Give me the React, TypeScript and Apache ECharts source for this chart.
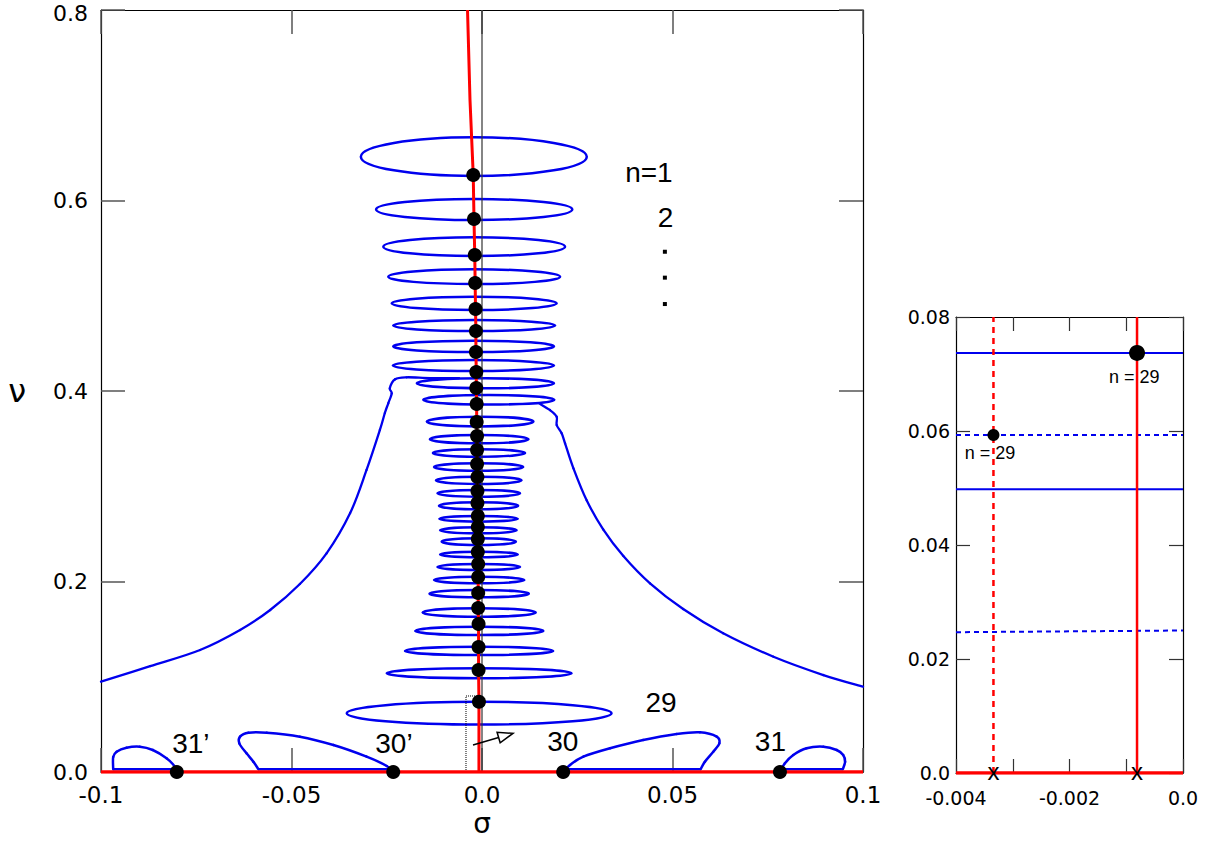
import React, { useEffect, useRef } from "react";
import * as echarts from "echarts";

// ---------------- main panel data ----------------
const mainXTicks = ["-0.1", "-0.05", "0.0", "0.05", "0.1"];
const mainYTicks = ["0.0", "0.2", "0.4", "0.6", "0.8"];

// loops n = 1 .. 29 (sigma left/right, nu bottom/top)
const loopSigmaLeft = [-0.0318, -0.0278, -0.0259, -0.0246, -0.0237, -0.0233, -0.0233, -0.0234, -0.0171, -0.0154, -0.0145, -0.0137, -0.0129, -0.0126, -0.0121, -0.0117, -0.0113, -0.0112, -0.011, -0.0106, -0.011, -0.0117, -0.0126, -0.0138, -0.0156, -0.0175, -0.0202, -0.025, -0.0355];
const loopSigmaRight = [0.0275, 0.0237, 0.0218, 0.0205, 0.0196, 0.0192, 0.0189, 0.0189, 0.0189, 0.019, 0.0135, 0.0122, 0.0113, 0.0108, 0.0104, 0.01, 0.0095, 0.0094, 0.0091, 0.0089, 0.0094, 0.01, 0.0111, 0.0123, 0.0141, 0.0161, 0.0187, 0.0235, 0.034];
const loopNuTop = [0.6664, 0.6016, 0.5614, 0.5278, 0.499, 0.4745, 0.4528, 0.4325, 0.4133, 0.3958, 0.373, 0.3538, 0.3388, 0.3241, 0.31, 0.2961, 0.2832, 0.2688, 0.2569, 0.2454, 0.2313, 0.2184, 0.205, 0.1911, 0.1719, 0.1525, 0.1315, 0.1089, 0.0737];
const loopNuBottom = [0.6257, 0.5795, 0.5417, 0.5123, 0.485, 0.463, 0.4409, 0.421, 0.4028, 0.3858, 0.3628, 0.3451, 0.331, 0.3163, 0.3024, 0.289, 0.2758, 0.2628, 0.2506, 0.2383, 0.2254, 0.2121, 0.1981, 0.1834, 0.163, 0.1438, 0.1228, 0.0984, 0.0498];

// black dots n = 1 .. 29 on the red curve
const dotSigma = [-0.0023, -0.0021, -0.0019, -0.0018, -0.0017, -0.0016, -0.0016, -0.0015, -0.0015, -0.0014, -0.0014, -0.0013, -0.0013, -0.0013, -0.0012, -0.0012, -0.0012, -0.0011, -0.0011, -0.0011, -0.0011, -0.001, -0.001, -0.001, -0.001, -0.0009, -0.0009, -0.0009, -0.0008];
const dotNu = [0.6268, 0.5806, 0.5428, 0.5134, 0.4861, 0.463, 0.4409, 0.4199, 0.4031, 0.3864, 0.3675, 0.3528, 0.3381, 0.3234, 0.3097, 0.295, 0.2824, 0.2688, 0.2572, 0.2446, 0.231, 0.2184, 0.2047, 0.1879, 0.1722, 0.1554, 0.1312, 0.1071, 0.0737];

// red curve beyond the dots
const redTop = [[-0.00315, 0.7055], [-0.0038, 0.8]];
const redBottom = [[-0.0008, 0.0]];

// outer blue curves
const leftOuter = [[-0.1, 0.0948], [-0.0871, 0.1111], [-0.074, 0.1281], [-0.0635, 0.1491], [-0.0556, 0.1701], [-0.0478, 0.1974], [-0.0408, 0.2296], [-0.0346, 0.2719], [-0.0303, 0.3171], [-0.0268, 0.3591], [-0.0255, 0.3769], [-0.0246, 0.3871], [-0.0237, 0.3976], [-0.0242, 0.4028], [-0.0228, 0.4123], [-0.0198, 0.4144], [-0.0136, 0.4136], [-0.006, 0.4134]];
const rightOuter = [[0.1, 0.0896], [0.0896, 0.1018], [0.0765, 0.121], [0.0633, 0.1456], [0.0528, 0.1711], [0.0441, 0.1981], [0.0371, 0.2268], [0.0318, 0.2548], [0.0275, 0.285], [0.024, 0.3188], [0.0218, 0.3451], [0.0209, 0.3556], [0.0196, 0.3643], [0.0196, 0.373], [0.0178, 0.3801], [0.015, 0.387]];

// bottom lobes (outline from the dot, then flat base)
const lobe31p = [[-0.0801, 0.0], [-0.0806, 0.0056], [-0.0828, 0.0144], [-0.0864, 0.0231], [-0.0898, 0.0266], [-0.0933, 0.0255], [-0.0959, 0.0213], [-0.0968, 0.0157], [-0.0968, 0.003]];
const lobe30p = [[-0.0233, 0.0], [-0.025, 0.0063], [-0.0303, 0.0161], [-0.039, 0.0283], [-0.0478, 0.0371], [-0.0565, 0.0413], [-0.0613, 0.0413], [-0.0635, 0.0371], [-0.0637, 0.0301], [-0.0618, 0.0196], [-0.06, 0.0108], [-0.0587, 0.003]];
const lobe30 = [[0.0213, 0.0], [0.0231, 0.0073], [0.0266, 0.0161], [0.0336, 0.0249], [0.0423, 0.0336], [0.0511, 0.0399], [0.0572, 0.0417], [0.0616, 0.0371], [0.0623, 0.0301], [0.0607, 0.0213], [0.0585, 0.0108], [0.0574, 0.003]];
const lobe31 = [[0.0782, 0.0], [0.0795, 0.0091], [0.0817, 0.0178], [0.0852, 0.0249], [0.0896, 0.0266], [0.0931, 0.0231], [0.0948, 0.0178], [0.0953, 0.0108], [0.0947, 0.003]];
const lobeBases = [
  [[-0.0968, 0.003], [-0.0806, 0.003]],
  [[-0.0587, 0.003], [-0.024, 0.003]],
  [[0.0574, 0.003], [0.022, 0.003]],
  [[0.0947, 0.003], [0.079, 0.003]],
];
const bottomDotSigma = [-0.0801, -0.0233, 0.0213, 0.0782];

const insetBox = [[-0.0042, 0], [-0.0042, 0.0798], [0, 0.0798]];
const arrowSeg = [[-0.00236, 0.0283, 0.00814, 0.0406]];

const mainLabelText = ["n=1", "2", "29", "31\u2019", "30\u2019", "30", "31"];
const mainLabelSigma = [0.0438, 0.0482, 0.047, -0.0764, -0.0231, 0.0212, 0.0757];
const mainLabelNu = [0.6294, 0.5822, 0.073, 0.0301, 0.0301, 0.0318, 0.0318];
const ellipsisDots = [[0.048, 0.5462], [0.048, 0.519], [0.048, 0.4913]];

// ---------------- inset data ----------------
const insetXTicks = ["-0.004", "-0.002", "0.0"];
const insetYTicks = ["0.0", "0.02", "0.04", "0.06", "0.08"];
const insetRedSolidSigma = -0.00081;
const insetRedDashedSigma = -0.00334;
const insetBlueSolidNu = [0.0737, 0.0498];
const insetBlueDashedNu = [[0.0593, 0.0593], [0.0247, 0.025]];
const insetDots = [[-0.00081, 0.0737], [-0.00334, 0.0593]];
const insetDotSizes = [16, 12];
const insetLabelText = ["n = 29", "n = 29"];
const insetLabelPos = [[-0.00086, 0.0695], [-0.0034, 0.0561]];
const insetCrossSigma = [-0.00334, -0.00081];

const BLUE = "#0000ee";
const RED = "#ff0000";
const SANS = "'Liberation Sans', Arial, sans-serif";
const TICKFONT = "'DejaVu Sans', sans-serif";

function lineSeries(data: number[][], color: string, width: number, extra: any = {}, axis = 0) {
  return {
    type: "line",
    xAxisIndex: axis,
    yAxisIndex: axis,
    data,
    symbol: "none",
    silent: true,
    lineStyle: { color, width, ...(extra.lineStyle || {}) },
    smooth: extra.smooth || false,
    z: extra.z || 2,
  };
}

// smooth curve through read points (Catmull-Rom drawn as cubic beziers in pixel space)
function curveSeries(pts: number[][], color: string, width: number) {
  return {
    type: "custom",
    xAxisIndex: 0,
    yAxisIndex: 0,
    silent: true,
    data: pts,
    encode: { x: 0, y: 1 },
    z: 2,
    renderItem: (params: any, api: any) => {
      if (params.dataIndex !== 0) return null;
      const P = pts.map((p) => api.coord(p));
      const n = P.length;
      const children: any[] = [];
      for (let i = 0; i < n - 1; i++) {
        const p0 = P[Math.max(i - 1, 0)];
        const p1 = P[i];
        const p2 = P[i + 1];
        const p3 = P[Math.min(i + 2, n - 1)];
        children.push({
          type: "bezierCurve",
          shape: {
            x1: p1[0], y1: p1[1], x2: p2[0], y2: p2[1],
            cpx1: p1[0] + (p2[0] - p0[0]) / 6, cpy1: p1[1] + (p2[1] - p0[1]) / 6,
            cpx2: p2[0] - (p3[0] - p1[0]) / 6, cpy2: p2[1] - (p3[1] - p1[1]) / 6,
          },
          style: { fill: "none", stroke: color, lineWidth: width, lineCap: "round" },
        });
      }
      return { type: "group", children };
    },
  };
}

function textSeries(names: string[], values: number[][], fontSize: number, axis: number, offset: number[] = [0, 0]) {
  return {
    type: "scatter",
    xAxisIndex: axis,
    yAxisIndex: axis,
    silent: true,
    symbolSize: 1,
    itemStyle: { color: "rgba(255,255,255,0)", opacity: 1 },
    z: 6,
    data: names.map((t, i) => ({ name: t, value: values[i] })),
    label: {
      show: true, position: "inside", offset, formatter: "{b}", color: "#000", opacity: 1,
      fontSize, fontFamily: SANS, textBorderWidth: 0,
    },
  };
}

export default function App() {
  const ref = useRef<HTMLDivElement>(null);
  useEffect(() => {
    document.body.style.margin = "0";
    const chart = echarts.init(ref.current!, null, { renderer: "svg" });

    const mainXFmt = (v: number) => {
      const k = Math.round(v * 100);
      const idx = [-10, -5, 0, 5, 10].indexOf(k);
      return idx >= 0 ? mainXTicks[idx] : "";
    };
    const mainYFmt = (v: number) => {
      const k = Math.round(v * 5);
      const t = mainYTicks[k] ?? "";
      return k === 4 ? "{top|" + t + "}" : t;
    };
    const insetXFmt = (v: number) => {
      const k = Math.round(v * 1000);
      const idx = [-4, -2, 0].indexOf(k);
      return idx >= 0 ? insetXTicks[idx] : "";
    };
    const insetYFmt = (v: number) => insetYTicks[Math.round(v * 50)] ?? "";

    const mainTick = { show: true, inside: true, length: 24, lineStyle: { color: "#555", width: 1.5 } };
    const insetTick = { show: true, inside: true, length: 14, lineStyle: { color: "#333", width: 1.2 } };
    const frameLine = { show: true, onZero: false, lineStyle: { color: "#000", width: 1.2 } };

    const loopData = loopSigmaLeft.map((l, i) => [l, loopSigmaRight[i], loopNuBottom[i], loopNuTop[i]]);
    const redCurve = [...redBottom, ...dotSigma.map((s, i) => [s, dotNu[i]]).reverse(), ...redTop];

    const series: any[] = [];
    series.push(curveSeries(leftOuter, BLUE, 2.3));
    series.push(curveSeries(rightOuter, BLUE, 2.3));
    series.push({
      type: "custom",
      xAxisIndex: 0,
      yAxisIndex: 0,
      silent: true,
      data: loopData,
      encode: { x: [0, 1], y: [2, 3] },
      z: 2,
      renderItem: (params: any, api: any) => {
        const a = api.coord([api.value(0), api.value(3)]);
        const b = api.coord([api.value(1), api.value(2)]);
        return {
          type: "ellipse",
          shape: { cx: (a[0] + b[0]) / 2, cy: (a[1] + b[1]) / 2, rx: Math.abs(b[0] - a[0]) / 2, ry: Math.abs(b[1] - a[1]) / 2 },
          style: { fill: "none", stroke: BLUE, lineWidth: 2.5 },
        };
      },
    });
    [lobe31p, lobe30p, lobe30, lobe31].forEach((l) => series.push(curveSeries(l, BLUE, 2.5)));
    lobeBases.forEach((l) => series.push(lineSeries(l, BLUE, 2.5)));
    series.push(lineSeries([[0, 0], [0, 0.8]], "#333", 1.2, { z: 3 }));
    series.push(lineSeries(insetBox, "#000", 1, { lineStyle: { type: "dotted" }, z: 3 }));
    series.push(lineSeries(redCurve, RED, 3, { z: 4 }));
    series.push(lineSeries([[-0.1, 0], [0.1, 0]], RED, 3.5, { z: 4 }));
    series.push({
      type: "scatter",
      xAxisIndex: 0,
      yAxisIndex: 0,
      silent: true,
      symbolSize: 14,
      itemStyle: { color: "#000", opacity: 1 },
      z: 5,
      data: [...dotSigma.map((s, i) => [s, dotNu[i]]), ...bottomDotSigma.map((s) => [s, 0])],
    });
    series.push({
      type: "scatter",
      xAxisIndex: 0,
      yAxisIndex: 0,
      silent: true,
      symbol: "rect",
      symbolSize: 4,
      itemStyle: { color: "#000", opacity: 1 },
      z: 5,
      data: ellipsisDots,
    });
    series.push(textSeries(mainLabelText, mainLabelText.map((_, i) => [mainLabelSigma[i], mainLabelNu[i]]), 28, 0));
    series.push({
      type: "custom",
      xAxisIndex: 0,
      yAxisIndex: 0,
      silent: true,
      data: arrowSeg,
      encode: { x: [0, 2], y: [1, 3] },
      z: 6,
      renderItem: (params: any, api: any) => {
        const p1 = api.coord([api.value(0), api.value(1)]);
        const p2 = api.coord([api.value(2), api.value(3)]);
        const dx = p2[0] - p1[0];
        const dy = p2[1] - p1[1];
        const len = Math.sqrt(dx * dx + dy * dy);
        const ux = dx / len;
        const uy = dy / len;
        const hl = 15;
        const hw = 5.5;
        const bx = p2[0] - ux * hl;
        const by = p2[1] - uy * hl;
        return {
          type: "group",
          children: [
            { type: "line", shape: { x1: p1[0], y1: p1[1], x2: bx, y2: by }, style: { stroke: "#000", lineWidth: 1.5 } },
            {
              type: "polygon",
              shape: { points: [[p2[0], p2[1]], [bx - uy * hw, by + ux * hw], [bx + uy * hw, by - ux * hw]] },
              style: { fill: "#fff", stroke: "#000", lineWidth: 1.5 },
            },
          ],
        };
      },
    });

    // inset series
    insetBlueSolidNu.forEach((n) => series.push(lineSeries([[-0.004, n], [0, n]], BLUE, 2, {}, 2)));
    insetBlueDashedNu.forEach((n) =>
      series.push(lineSeries([[-0.004, n[0]], [0, n[1]]], BLUE, 2, { lineStyle: { type: [5, 4] } }, 2))
    );
    series.push(lineSeries([[insetRedSolidSigma, 0], [insetRedSolidSigma, 0.08]], RED, 2.5, { z: 4 }, 2));
    series.push(lineSeries([[insetRedDashedSigma, 0], [insetRedDashedSigma, 0.08]], RED, 2.5, { lineStyle: { type: [6, 5] }, z: 4 }, 2));
    series.push(lineSeries([[-0.004, 0], [0, 0]], RED, 3.5, { z: 4 }, 2));
    series.push({
      type: "scatter",
      xAxisIndex: 2,
      yAxisIndex: 2,
      silent: true,
      itemStyle: { color: "#000", opacity: 1 },
      z: 5,
      data: insetDots.map((d, i) => ({ value: d, symbolSize: insetDotSizes[i] })),
    });
    series.push(textSeries(insetLabelText, insetLabelPos, 18, 2));
    series.push(textSeries(insetCrossSigma.map(() => "x"), insetCrossSigma.map((s) => [s, 0]), 24, 2, [0, -2]));

    const option: any = {
      animation: false,
      backgroundColor: "#fff",
      grid: [
        { left: 101, top: 10, width: 762, height: 762, outerBoundsMode: "none", containLabel: false },
        { left: 956, top: 317, width: 227, height: 456, outerBoundsMode: "none", containLabel: false },
      ],
      xAxis: [
        {
          gridIndex: 0, type: "value", min: -0.1, max: 0.1, interval: 0.05, position: "bottom",
          axisLine: frameLine, axisTick: mainTick, splitLine: { show: false },
          axisLabel: { formatter: mainXFmt, color: "#000", fontSize: 23, lineHeight: 20, fontFamily: TICKFONT, margin: 13, showMinLabel: true, showMaxLabel: true },
          name: "\u03c3", nameLocation: "middle", nameGap: 40, nameMoveOverlap: false,
          nameTextStyle: { fontSize: 28, color: "#000", fontFamily: TICKFONT, lineHeight: 22 },
        },
        {
          gridIndex: 0, type: "value", min: -0.1, max: 0.1, interval: 0.05, position: "top",
          axisLine: frameLine, axisTick: mainTick, splitLine: { show: false }, axisLabel: { show: false },
        },
        {
          gridIndex: 1, type: "value", min: -0.004, max: 0, interval: 0.001, position: "bottom",
          axisLine: frameLine, axisTick: insetTick, splitLine: { show: false },
          axisLabel: { formatter: insetXFmt, color: "#000", fontSize: 19, fontFamily: TICKFONT, margin: 15, showMinLabel: true, showMaxLabel: true },
        },
        {
          gridIndex: 1, type: "value", min: -0.004, max: 0, interval: 0.001, position: "top",
          axisLine: frameLine, axisTick: insetTick, splitLine: { show: false }, axisLabel: { show: false },
        },
      ],
      yAxis: [
        {
          gridIndex: 0, type: "value", min: 0, max: 0.8, interval: 0.2, position: "left",
          axisLine: frameLine, axisTick: mainTick, splitLine: { show: false },
          axisLabel: {
            formatter: mainYFmt, color: "#000", fontSize: 22, fontFamily: TICKFONT, margin: 13,
            showMinLabel: true, showMaxLabel: true,
            rich: { top: { fontSize: 22, fontFamily: TICKFONT, color: "#000", padding: [7, 0, 0, 0] } },
          },
          name: "\u03bd", nameLocation: "middle", nameRotate: 0, nameGap: 75, nameMoveOverlap: false,
          nameTextStyle: { fontSize: 32, color: "#000", fontFamily: TICKFONT },
        },
        {
          gridIndex: 0, type: "value", min: 0, max: 0.8, interval: 0.2, position: "right",
          axisLine: frameLine, axisTick: mainTick, splitLine: { show: false }, axisLabel: { show: false },
        },
        {
          gridIndex: 1, type: "value", min: 0, max: 0.08, interval: 0.02, position: "left",
          axisLine: frameLine, axisTick: insetTick, splitLine: { show: false },
          axisLabel: { formatter: insetYFmt, color: "#000", fontSize: 19, fontFamily: TICKFONT, margin: 6, showMinLabel: true, showMaxLabel: true },
        },
        {
          gridIndex: 1, type: "value", min: 0, max: 0.08, interval: 0.02, position: "right",
          axisLine: frameLine, axisTick: insetTick, splitLine: { show: false }, axisLabel: { show: false },
        },
      ],
      series,
    };
    chart.setOption(option);
    return () => chart.dispose();
  }, []);
  return <div ref={ref} style={{ width: 1210, height: 841, display: "block" }} />;
}
